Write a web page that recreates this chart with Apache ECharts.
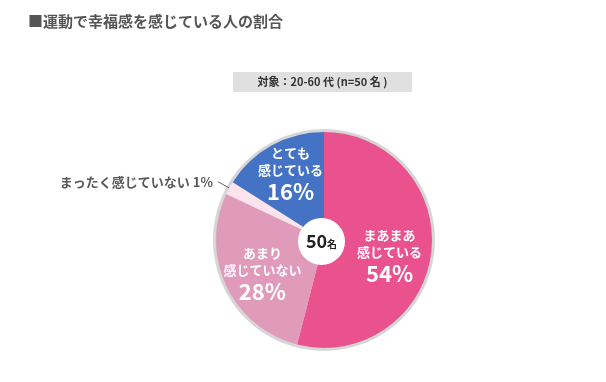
<!DOCTYPE html>
<html>
<head>
<meta charset="utf-8">
<script src="https://cdn.jsdelivr.net/npm/echarts@6/dist/echarts.min.js"></script>
<style>
html,body{margin:0;padding:0;background:#fff;}
#c{width:606px;height:382px;}
</style>
</head>
<body>
<div id="c"></div>
<script>
// ---- data ----
const titleText = '■運動で幸福感を感じている人の割合';
const subjectText = '対象：20-60 代 (n=50 名 )';
const categories = ['まあまあ\n感じている', 'あまり\n感じていない', 'まったく感じていない', 'とても\n感じている'];
const sliceValues = [54, 28, 2, 16];
const percentLabels = ['54%', '28%', '1%', '16%'];
const totalCount = '50';
const totalUnit = '名';

// ---- style ----
const colors = ['#E9528E', '#E09BBB', '#FCE3EE', '#4472C4'];
const labelShift = [[9, 9], [-10, 10], [0, 0], [-6, -15]];
const FONT = '"Noto Sans CJK JP", "Noto Sans", sans-serif';

const chart = echarts.init(document.getElementById('c'), null, {renderer: 'canvas'});

const pieData = categories.map((name, i) => {
  const item = {name: name, value: sliceValues[i], itemStyle: {color: colors[i]}};
  if (i === 2) {
    item.label = {
      position: 'outside',
      formatter: () => '{o|' + name + ' ' + percentLabels[i] + '}',
      distanceToLabelLine: 5
    };
    item.labelLine = {show: true, length: 13, length2: 0, lineStyle: {color: '#666', width: 1}};
  }
  return item;
});

chart.setOption({
  backgroundColor: '#fff',
  animation: false,
  title: {
    text: titleText,
    left: 28, top: 14, padding: 0,
    textStyle: {fontFamily: FONT, fontSize: 15, fontWeight: 'bold', color: '#555'}
  },
  graphic: [{
    type: 'group', left: 233, top: 72,
    children: [
      {type: 'rect', shape: {x: 0, y: 0, width: 179, height: 20}, style: {fill: '#E0E0E0'}},
      {type: 'text', x: 89.5, y: 10, style: {text: subjectText, fontFamily: FONT, fontSize: 11, fontWeight: 'bold', fill: '#333', align: 'center', verticalAlign: 'middle'}}
    ]
  }],
  series: [
    {
      type: 'pie', silent: true, z: 1,
      center: [324, 240], radius: [0, 111],
      label: {show: false}, labelLine: {show: false},
      data: [{value: 1, itemStyle: {color: '#D6D6D6'}}]
    },
    {
      type: 'pie', z: 2,
      center: [324, 240], radius: [0, 108],
      startAngle: 90, clockwise: true,
      avoidLabelOverlap: false,
      data: pieData,
      itemStyle: {borderWidth: 0},
      label: {
        show: true,
        position: 'inside',
        formatter: (p) => {
          const lines = p.name.split('\n').map(s => '{a|' + s + '}').join('\n');
          return lines + '\n{b|' + percentLabels[p.dataIndex] + '}';
        },
        rich: {
          a: {fontFamily: FONT, fontSize: 13, fontWeight: 'bold', color: '#fff', lineHeight: 17, align: 'center'},
          b: {fontFamily: FONT, fontSize: 22, fontWeight: 'bold', color: '#fff', lineHeight: 26, align: 'center'},
          o: {fontFamily: FONT, fontSize: 13, fontWeight: 'bold', color: '#595959'}
        }
      },
      labelLayout: (params) => {
        const s = labelShift[params.dataIndex];
        if (params.dataIndex === 2) return {};
        return {dx: s[0], dy: s[1]};
      }
    },
    {
      type: 'pie', silent: true, z: 3,
      center: [321.5, 241.5], radius: [0, 23.5],
      data: [{value: 1, name: totalCount, itemStyle: {color: '#fff'}}],
      label: {
        show: true, position: 'center',
        formatter: () => '{n|' + totalCount + '}{u|' + totalUnit + '}',
        rich: {
          n: {fontFamily: FONT, fontSize: 18, fontWeight: 'bold', color: '#222'},
          u: {fontFamily: FONT, fontSize: 10, fontWeight: 'bold', color: '#222', padding: [5, 0, 0, 0]}
        }
      },
      labelLine: {show: false}
    }
  ]
});
</script>
</body>
</html>
